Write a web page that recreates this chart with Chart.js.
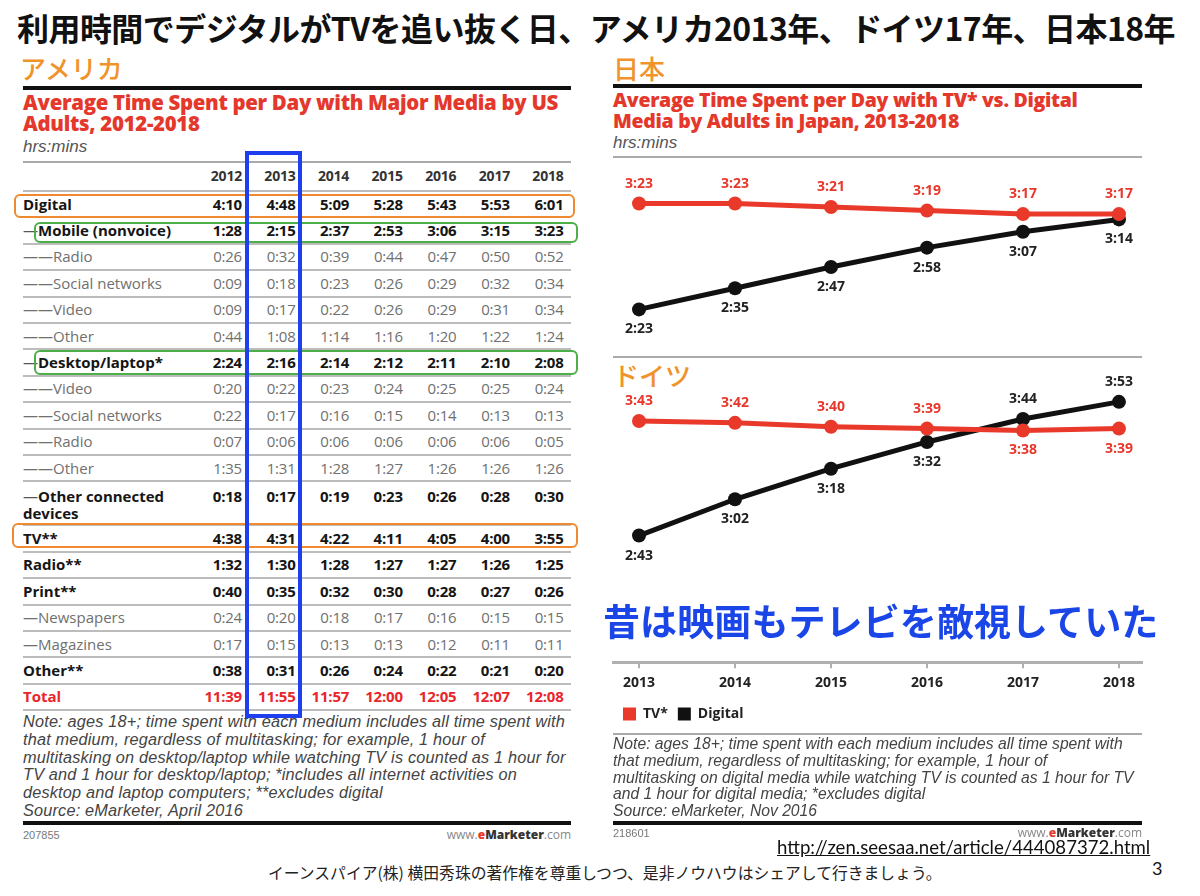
<!DOCTYPE html>
<html><head><meta charset="utf-8">
<script src="https://cdn.jsdelivr.net/npm/chart.js@4.4.1/dist/chart.umd.min.js"></script>
<style>
html,body{margin:0;padding:0;background:#fff;}
body{width:1200px;height:896px;overflow:hidden;position:relative;font-family:"Noto Sans CJK JP",sans-serif;}
.abs{position:absolute;white-space:nowrap;}
#title{left:17px;top:5px;font-size:32px;font-weight:700;color:#111;line-height:44px;letter-spacing:-0.55px;}
.region{font-size:26px;color:#F0932B;font-weight:500;line-height:30px;}
.rtitle{font-family:"Open Sans";font-weight:800;color:#E5382C;line-height:20.5px;letter-spacing:-0.3px;}
.hrs{font-family:"Liberation Sans";font-style:italic;color:#555;font-size:17px;line-height:20px;}
.hline{position:absolute;height:0;}
.note{font-family:"Liberation Sans";font-style:italic;color:#444;}
.small{font-family:"Liberation Sans";font-size:11px;color:#777;}
.emk{font-family:"Open Sans";font-size:12px;color:#888;}
.emk b{color:#333;font-weight:800;}
.emk i{color:#E5382C;font-weight:800;font-style:normal;}
#usTable{position:absolute;left:23px;top:0;width:548px;font-family:"Open Sans";}
.row{position:absolute;left:0;width:548px;border-bottom:2px solid #bcbcbc;box-sizing:border-box;}
.lab{position:absolute;left:0;width:180px;white-space:normal;font-size:15px;line-height:17px;}
.val{position:absolute;width:52px;text-align:right;font-size:15px;line-height:17px;letter-spacing:-0.2px;}
.box{position:absolute;box-sizing:border-box;border-radius:6px;}
</style></head>
<body>
<div id="title" class="abs">利用時間でデジタルがTVを追い抜く日、アメリカ2013年、ドイツ17年、日本18年</div>
<div class="abs region" style="left:20px;top:53px;">アメリカ</div>
<div class="abs region" style="left:613px;top:53px;">日本</div>
<div class="abs region" style="left:613px;top:360px;">ドイツ</div>

<!-- US panel -->
<div class="hline" style="left:23px;top:86px;width:548px;border-top:4px solid #111;"></div>
<div class="abs rtitle" style="left:23px;top:92px;font-size:20.4px;line-height:21px;">Average Time Spent per Day with Major Media by US<br>Adults, 2012-2018</div>
<div class="abs hrs" style="left:23px;top:137px;">hrs:mins</div>
<div class="hline" style="left:23px;top:161px;width:548px;border-top:2px solid #aaa;"></div>
<div id="usTable"></div>

<div class="abs note" style="left:23px;top:713px;font-size:16.3px;letter-spacing:0.18px;line-height:17.8px;">Note: ages 18+; time spent with each medium includes all time spent with<br>that medium, regardless of multitasking; for example, 1 hour of<br>multitasking on desktop/laptop while watching TV is counted as 1 hour for<br>TV and 1 hour for desktop/laptop; *includes all internet activities on<br>desktop and laptop computers; **excludes digital<br>Source: eMarketer, April 2016</div>
<div class="hline" style="left:23px;top:821px;width:548px;border-top:4px solid #111;"></div>
<div class="abs small" style="left:23px;top:829px;">207855</div>
<div class="abs emk" style="left:411px;top:826px;width:160px;text-align:right;">www.<i>e</i><b>Marketer</b>.com</div>

<!-- Japan / Germany panel -->
<div class="hline" style="left:613px;top:84px;width:529px;border-top:4px solid #111;"></div>
<div class="abs rtitle" style="left:613px;top:90px;font-size:19.5px;">Average Time Spent per Day with TV* vs. Digital<br>Media by Adults in Japan, 2013-2018</div>
<div class="abs hrs" style="left:613px;top:133px;">hrs:mins</div>
<div class="hline" style="left:613px;top:156px;width:529px;border-top:2px solid #aaa;"></div>
<canvas id="jpChart" width="550" height="200" style="position:absolute;left:600px;top:160px;"></canvas>
<div class="hline" style="left:613px;top:356px;width:529px;border-top:2px solid #aaa;"></div>
<canvas id="deChart" width="550" height="371" style="position:absolute;left:600px;top:360px;"></canvas>
<div class="abs" style="left:603px;top:595px;font-size:37px;font-weight:700;color:#1A46E8;line-height:50px;letter-spacing:0.1px;">昔は映画もテレビを敵視していた</div>
<div class="hline" style="left:613px;top:733px;width:529px;border-top:2px solid #aaa;"></div>
<div class="abs note" style="left:613px;top:736px;font-size:15.7px;letter-spacing:0px;line-height:16.8px;">Note: ages 18+; time spent with each medium includes all time spent with<br>that medium, regardless of multitasking; for example, 1 hour of<br>multitasking on digital media while watching TV is counted as 1 hour for TV<br>and 1 hour for digital media; *excludes digital<br>Source: eMarketer, Nov 2016</div>
<div class="hline" style="left:613px;top:821px;width:529px;border-top:4px solid #111;"></div>
<div class="abs small" style="left:613px;top:827px;">218601</div>
<div class="abs emk" style="left:982px;top:824px;width:160px;text-align:right;">www.<i>e</i><b>Marketer</b>.com</div>

<div class="abs" style="left:777px;top:836px;font-family:Lato;font-size:18.6px;color:#111;text-decoration:underline;line-height:22px;">http://zen.seesaa.net/article/444087372.html</div>
<div class="abs" style="left:268px;top:862px;font-size:15.8px;color:#222;line-height:22px;">イーンスパイア(株) 横田秀珠の著作権を尊重しつつ、是非ノウハウはシェアして行きましょう。</div>
<div class="abs" style="left:1152px;top:857px;font-family:Lato;font-size:18px;color:#111;line-height:22px;">3</div>

<!-- annotation boxes -->
<div class="box" style="left:14px;top:194px;width:561px;height:24px;border:2.5px solid #F08A30;"></div>
<div class="box" style="left:34px;top:222px;width:544px;height:21px;border:2.5px solid #4DAF4A;"></div>
<div class="box" style="left:34px;top:350px;width:544px;height:25px;border:2.5px solid #4DAF4A;"></div>
<div class="box" style="left:12px;top:523px;width:566px;height:25px;border:2.5px solid #F08A30;"></div>
<div class="box" style="left:245px;top:151px;width:57px;height:567px;border:4px solid #1D3FF0;border-radius:0;"></div>

<script>
// ---------- US table data (hrs:mins) ----------
const usYears = ['2012','2013','2014','2015','2016','2017','2018'];
const usRowLabels = ['Digital','—Mobile (nonvoice)','——Radio','——Social networks','——Video','——Other',
  '—Desktop/laptop*','——Video','——Social networks','——Radio','——Other','—Other connected devices',
  'TV**','Radio**','Print**','—Newspapers','—Magazines','Other**','Total'];
const usRowDetail = [false,false,true,true,true,true,false,true,true,true,true,false,false,false,false,true,true,false,false];
const usDigital       = ['4:10','4:48','5:09','5:28','5:43','5:53','6:01'];
const usMobile        = ['1:28','2:15','2:37','2:53','3:06','3:15','3:23'];
const usMobileRadio   = ['0:26','0:32','0:39','0:44','0:47','0:50','0:52'];
const usMobileSocial  = ['0:09','0:18','0:23','0:26','0:29','0:32','0:34'];
const usMobileVideo   = ['0:09','0:17','0:22','0:26','0:29','0:31','0:34'];
const usMobileOther   = ['0:44','1:08','1:14','1:16','1:20','1:22','1:24'];
const usDesktop       = ['2:24','2:16','2:14','2:12','2:11','2:10','2:08'];
const usDesktopVideo  = ['0:20','0:22','0:23','0:24','0:25','0:25','0:24'];
const usDesktopSocial = ['0:22','0:17','0:16','0:15','0:14','0:13','0:13'];
const usDesktopRadio  = ['0:07','0:06','0:06','0:06','0:06','0:06','0:05'];
const usDesktopOther  = ['1:35','1:31','1:28','1:27','1:26','1:26','1:26'];
const usOtherDevices  = ['0:18','0:17','0:19','0:23','0:26','0:28','0:30'];
const usTV            = ['4:38','4:31','4:22','4:11','4:05','4:00','3:55'];
const usRadio         = ['1:32','1:30','1:28','1:27','1:27','1:26','1:25'];
const usPrint         = ['0:40','0:35','0:32','0:30','0:28','0:27','0:26'];
const usNewspapers    = ['0:24','0:20','0:18','0:17','0:16','0:15','0:15'];
const usMagazines     = ['0:17','0:15','0:13','0:13','0:12','0:11','0:11'];
const usOther         = ['0:38','0:31','0:26','0:24','0:22','0:21','0:20'];
const usTotal         = ['11:39','11:55','11:57','12:00','12:05','12:07','12:08'];
const usRowValues = [usDigital,usMobile,usMobileRadio,usMobileSocial,usMobileVideo,usMobileOther,
  usDesktop,usDesktopVideo,usDesktopSocial,usDesktopRadio,usDesktopOther,usOtherDevices,
  usTV,usRadio,usPrint,usNewspapers,usMagazines,usOther,usTotal];

// ---------- Japan / Germany line chart data (hrs:mins) ----------
const chartYears = [2013,2014,2015,2016,2017,2018];
const jpTV      = ['3:23','3:23','3:21','3:19','3:17','3:17'];
const jpDigital = ['2:23','2:35','2:47','2:58','3:07','3:14'];
const deTV      = ['3:43','3:42','3:40','3:39','3:38','3:39'];
const deDigital = ['2:43','3:02','3:18','3:32','3:44','3:53'];
const seriesNames = ['TV*','Digital'];

// ---------- build US table ----------
(function(){
  const t = document.getElementById('usTable');
  const colRight = i => 219 + 53.6*i;   // right edge of value column, relative to table left
  const hdr = document.createElement('div');
  hdr.className='row'; hdr.style.top='163px'; hdr.style.height='29px';
  usYears.forEach((y,i)=>{
    const d=document.createElement('div'); d.className='val';
    d.style.left=(colRight(i)-52)+'px'; d.style.top='4px';
    d.style.fontWeight='700'; d.style.color='#333'; d.style.fontSize='14px'; d.textContent=y;
    hdr.appendChild(d);
  });
  t.appendChild(hdr);
  let top=192;
  usRowLabels.forEach((lab,r)=>{
    const two = lab.length>20;
    const h = two?44:26.4;
    const row=document.createElement('div'); row.className='row';
    row.style.top=top+'px'; row.style.height=h+'px';
    const isTotal = lab==='Total';
    const color = isTotal?'#E8262B':(usRowDetail[r]?'#707070':'#151515');
    const weight = usRowDetail[r]?400:700;
    const pad = two?6:(h-2-17)/2;
    const l=document.createElement('div'); l.className='lab';
    l.style.top=pad+'px'; l.style.color=color; l.style.fontWeight=weight;
    if(!usRowDetail[r] && lab.startsWith('—')){
      l.innerHTML='<span style="font-weight:400;color:#555">—</span>'+lab.slice(1);
    } else l.textContent=lab;
    if(two) l.style.width='170px';
    row.appendChild(l);
    usRowValues[r].forEach((v,i)=>{
      const d=document.createElement('div'); d.className='val';
      d.style.left=(colRight(i)-52)+'px'; d.style.top=pad+'px';
      d.style.color=color; d.style.fontWeight=weight; d.textContent=v;
      row.appendChild(d);
    });
    t.appendChild(row);
    top+=h;
  });
})();

// ---------- charts ----------
const RED='#E8392B', BLACK='#111111';
const toMin = s => { const p=s.split(':'); return (+p[0])*60 + (+p[1]); };

const pointLabels = {
  id:'pointLabels',
  afterDatasetsDraw(chart){
    const ctx=chart.ctx, ds=chart.data.datasets;
    ctx.save();
    ctx.font='700 14px "Open Sans"';
    ctx.textAlign='center'; ctx.textBaseline='middle';
    ds.forEach((d,di)=>{
      const meta=chart.getDatasetMeta(di);
      const other=ds[1-di];
      meta.data.forEach((pt,i)=>{
        const above = d.data[i].y >= other.data[i].y;
        ctx.fillStyle = di===0 ? '#E8372B' : '#222';
        ctx.fillText(d.texts[i], pt.x, pt.y + (above?-20:20));
      });
    });
    ctx.restore();
  }
};

function makeChart(id, tv, dig, yMin, yMax, showAxis, pad){
  const mk=(name,vals,color)=>({
    label:name, texts:vals,
    data: chartYears.map((yr,i)=>({x:yr, y:toMin(vals[i])})),
    borderColor:color, backgroundColor:color,
    pointBackgroundColor:color, pointBorderColor:color,
    borderWidth:5, pointRadius:7, pointBorderWidth:0, tension:0
  });
  return new Chart(document.getElementById(id),{
    type:'line',
    data:{datasets:[mk(seriesNames[0],tv,RED), mk(seriesNames[1],dig,BLACK)]},
    options:{
      responsive:false, animation:false, events:[],
      layout:{padding:pad},
      scales:{
        x:{type:'linear', min:2012.729, max:2018.24, display:showAxis,
           afterBuildTicks:ax=>{ ax.ticks = chartYears.map(v=>({value:v})); },
           grid:{drawOnChartArea:false, drawTicks:true, tickLength:6, color:'#b0b0b0', lineWidth:2},
           border:{display:true, color:'#b0b0b0', width:3},
           ticks:{padding:6, color:'#222', font:{family:'Open Sans', weight:'700', size:14}, callback:v=>String(v)}},
        y:{display:false, min:yMin, max:yMax}
      },
      plugins:{
        tooltip:{enabled:false},
        legend:{display:showAxis, position:'bottom', align:'start',
          labels:{boxWidth:13, boxHeight:13, padding:10, color:'#222',
            font:{family:'Open Sans', weight:'700', size:14},
            generateLabels:ch=>Chart.defaults.plugins.legend.labels.generateLabels(ch).map(l=>Object.assign(l,{lineWidth:0}))}}
      }
    },
    plugins:[pointLabels]
  });
}
makeChart('jpChart', jpTV, jpDigital, 120, 222, false, {left:13,right:8,top:10,bottom:10});
makeChart('deChart', deTV, deDigital, 96.7, 239.2, true, {left:13,right:8,top:30,bottom:0});
</script>
</body></html>
